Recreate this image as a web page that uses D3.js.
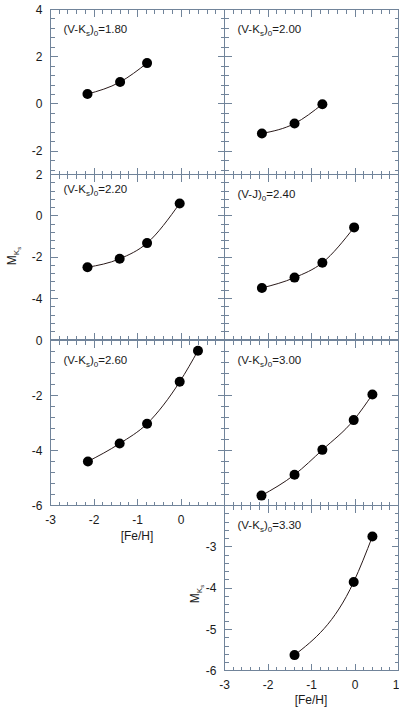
<!DOCTYPE html>
<html lang="en">
<head>
    <meta charset="UTF-8">
    <title>MKs vs [Fe/H]</title>
    <script src="https://d3js.org/d3.v7.min.js"></script>
    <style>
        body { margin: 0; background: #fff; }
        svg { display: block; font-family: "Liberation Sans", Arial, sans-serif; }
        .frame line, .frame rect { stroke: #71849a; stroke-width: 1px; fill: none; shape-rendering: crispEdges; }
        .lbl { font-size: 12px; fill: #1a1a1a; }
        .tag { font-size: 11.5px; fill: #1a1a1a; }
    </style>
</head>
<body>
<svg width="399" height="707"></svg>
<script>
    // panel order: row by row, left then right (last one sits alone bottom right)
    const colourBand = ["K", "K", "K", "J", "K", "K", "K"];
    const colourValue = ["1.80", "2.00", "2.20", "2.40", "2.60", "3.00", "3.30"];

    const feh1 = [-2.15, -1.40, -0.78];
    const mk1 = [0.42, 0.93, 1.73];
    const feh2 = [-2.14, -1.39, -0.75];
    const mk2 = [-1.25, -0.83, -0.01];
    const feh3 = [-2.15, -1.41, -0.78, -0.03];
    const mk3 = [-2.49, -2.08, -1.32, 0.60];
    const feh4 = [-2.14, -1.39, -0.75, -0.02];
    const mk4 = [-3.49, -2.99, -2.27, -0.56];
    const feh5 = [-2.14, -1.41, -0.78, -0.03, 0.39];
    const mk5 = [-4.39, -3.74, -3.02, -1.50, -0.37];
    const feh6 = [-2.15, -1.39, -0.75, -0.03, 0.40];
    const mk6 = [-5.63, -4.87, -3.97, -2.89, -1.96];
    const feh7 = [-1.39, -0.03, 0.40];
    const mk7 = [-5.62, -3.85, -2.75];

    const yDomains = [[-3, 4], [-3, 4], [-6, 2], [-6, 2], [-6, 0], [-6, 0], [-6, -2]];
    const yMajor = [2, 2, 2, 2, 2, 2, 1];
    const yMinor = [0.4, 0.4, 0.4, 0.4, 0.4, 0.4, 0.2];
    const yTickLabels = [[4, 2, 0, -2], [], [2, 0, -2, -4], [], [0, -2, -4, -6], [], [-3, -4, -5, -6]];
    const xDomain = [-3, 1];
    const xTickLabels = [[], [], [], [], [-3, -2, -1, 0], [], [-3, -2, -1, 0, 1]];

    const fehs = [feh1, feh2, feh3, feh4, feh5, feh6, feh7];
    const mks = [mk1, mk2, mk3, mk4, mk5, mk6, mk7];

    // grid placement
    const colX = [50, 224], panelW = 174;
    const rowY = [9, 174.3, 339.6, 504.9], panelH = 165.3;
    const cells = [[0, 0], [0, 1], [1, 0], [1, 1], [2, 0], [2, 1], [3, 1]];

    const svg = d3.select("svg");

    function steps(dom, step) {
        const out = [];
        for (let k = Math.ceil(dom[0] / step - 1e-9); k <= Math.floor(dom[1] / step + 1e-9); k++) {
            out.push(+(k * step).toFixed(4));
        }
        return out;
    }

    cells.forEach(function(cell, i) {
        const x0 = Math.round(colX[cell[1]]), y0 = Math.round(rowY[cell[0]]);
        const g = svg.append("g").attr("transform", "translate(" + (x0 + 0.5) + "," + (y0 + 0.5) + ")");
        const x = d3.scaleLinear().domain(xDomain).range([0, panelW]);
        const y = d3.scaleLinear().domain(yDomains[i]).range([panelH, 0]);

        const frame = g.append("g").attr("class", "frame");
        frame.append("rect").attr("width", panelW).attr("height", panelH);

        // inward ticks on all four sides, minor then major
        const xt = steps(xDomain, 0.2).map(v => [v, Math.abs(v - Math.round(v)) < 1e-6 ? 7 : 4]);
        const yt = steps(yDomains[i], yMinor[i]).map(v => {
            const r = v / yMajor[i];
            return [v, Math.abs(r - Math.round(r)) < 1e-6 ? 7 : 4];
        });
        frame.selectAll(".xb").data(xt).join("line").attr("class", "xb")
            .attr("x1", d => Math.round(x(d[0]))).attr("x2", d => Math.round(x(d[0])))
            .attr("y1", panelH).attr("y2", d => panelH - d[1]);
        frame.selectAll(".xtp").data(xt).join("line").attr("class", "xtp")
            .attr("x1", d => Math.round(x(d[0]))).attr("x2", d => Math.round(x(d[0])))
            .attr("y1", 0).attr("y2", d => d[1]);
        frame.selectAll(".yl0").data(yt).join("line").attr("class", "yl0")
            .attr("y1", d => Math.round(y(d[0]))).attr("y2", d => Math.round(y(d[0])))
            .attr("x1", 0).attr("x2", d => d[1]);
        frame.selectAll(".yr").data(yt).join("line").attr("class", "yr")
            .attr("y1", d => Math.round(y(d[0]))).attr("y2", d => Math.round(y(d[0])))
            .attr("x1", panelW).attr("x2", d => panelW - d[1]);

        // tick labels
        g.selectAll(".yl").data(yTickLabels[i]).join("text")
            .attr("class", "lbl yl")
            .attr("x", -8).attr("y", d => y(d)).attr("dy", "0.35em")
            .attr("text-anchor", "end").text(d => d);
        g.selectAll(".xl").data(xTickLabels[i]).join("text")
            .attr("class", "lbl xl")
            .attr("x", d => d === 1 ? x(d) + 1 : x(d)).attr("y", panelH + 18)
            .attr("text-anchor", d => d === 1 ? "end" : "middle").text(d => d);

        // fitted curve and stars
        const pts = fehs[i].map((f, k) => [f, mks[i][k]]);
        const line = d3.line().x(d => x(d[0])).y(d => y(d[1])).curve(d3.curveMonotoneX);
        g.append("path").attr("d", line(pts))
            .attr("fill", "none").attr("stroke", "#2a1a1a").attr("stroke-width", 1);
        g.selectAll("circle").data(pts).join("circle")
            .attr("cx", d => x(d[0])).attr("cy", d => y(d[1])).attr("r", 5)
            .attr("fill", "#000");

        // colour label
        const t = g.append("text").attr("class", "tag").attr("x", 13).attr("y", i === 2 ? 18 : 23);
        t.append("tspan").text("(V-" + colourBand[i]);
        if (colourBand[i] === "K") {
            t.append("tspan").attr("font-size", "8px").attr("dy", 3).text("s");
            t.append("tspan").attr("dy", -3).text(")");
        } else {
            t.append("tspan").text(")");
        }
        t.append("tspan").attr("font-size", "8px").attr("dy", 3).text("0");
        t.append("tspan").attr("dy", -3).text("=" + colourValue[i]);
    });

    // axis titles
    function mksLabel(cx, cy) {
        const t = svg.append("text").attr("class", "lbl")
            .attr("transform", "translate(" + cx + "," + cy + ") rotate(-90)")
            .attr("text-anchor", "middle");
        t.append("tspan").text("M");
        t.append("tspan").attr("font-size", "8px").attr("dy", 3).text("K");
        t.append("tspan").attr("font-size", "6px").attr("dy", 2).text("s");
    }
    mksLabel(16, 256);
    mksLabel(199, 594);

    svg.append("text").attr("class", "lbl").attr("x", 137).attr("y", 540)
        .attr("text-anchor", "middle").text("[Fe/H]");
    svg.append("text").attr("class", "lbl").attr("x", 311).attr("y", 704)
        .attr("text-anchor", "middle").text("[Fe/H]");
</script>
</body>
</html>
